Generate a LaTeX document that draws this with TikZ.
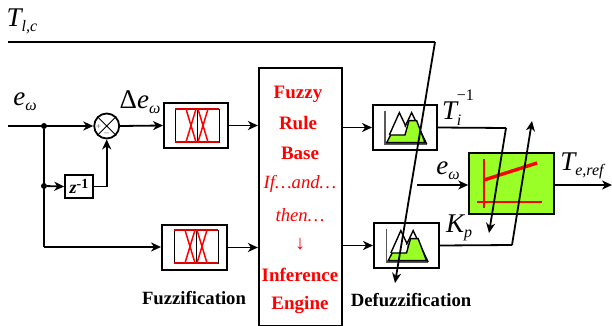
\documentclass[tikz,border=0pt]{standalone}
\usepackage{fontspec}
\setmainfont{Liberation Serif}
\usetikzlibrary{arrows.meta}
\definecolor{lime}{RGB}{153,255,38}
\newcommand{\sbs}[1]{\raisebox{-0.4ex}{\fontsize{16}{16}\selectfont\itshape #1}}
\newcommand{\eom}{{\itshape e}\sbs{ω}}
\tikzset{
  x=1pt,y=-1pt,
  conn/.style={line width=1.8pt,-{Stealth[length=10pt,width=9pt,inset=3pt]}},
  wire/.style={line width=1.8pt},
  boxx/.style={draw,line width=1.9pt,inner sep=0,fill=white},
  lab/.style={inner sep=0,font=\fontsize{27}{28}\selectfont},
  captxt/.style={inner sep=0,font=\fontsize{18.7}{19}\selectfont\bfseries},
  rb/.style={inner sep=0,text=red,font=\fontsize{19}{20}\selectfont\bfseries},
  ri/.style={inner sep=0,text=red,font=\fontsize{18.7}{20}\selectfont\itshape},
  dotn/.style={circle,fill,inner sep=0,minimum size=6pt}
}
\newcommand{\fuzzmark}[2]{%
  \begin{scope}[shift={(#1,#2)}]
    \draw[line width=.9pt] (0,0) rectangle (44,33);
    \draw[line width=.9pt] (22,0) -- (22,33);
    \draw[red!85!black,line width=1.2pt] (0,0) -- (44,0) (0,33) -- (44,33);
    \draw[red,line width=1.5pt] (11,0) -- (21,33) (21,0) -- (11,33) (23,0) -- (33,33) (33,0) -- (23,33);
  \end{scope}}
\newcommand{\defuzzmark}[2]{%
  \begin{scope}[shift={(#1,#2)},x=.3333pt,y=-.3333pt]
    \draw[gray!70!black,line width=1.1pt] (75,62) -- (75,162) -- (200,162);
    \draw[line width=1.4pt,fill=white] (88,135) -- (118,68) -- (150,135);
    \draw[line width=1.4pt,fill=white] (135,110) -- (155,68) -- (200,162);
    \draw[line width=1.4pt,fill=lime] (80,158) -- (92,135) -- (135,135) -- (147,92) -- (170,92) -- (195,158) -- cycle;
  \end{scope}}
\begin{document}
\begin{tikzpicture}
\useasboundingbox (0,0) rectangle (612,326);
\fill[white] (0,0) rectangle (612,326);
% nodes
\node[lab,anchor=center] (tlc) at (22,21) {\itshape T\sbs{l,c}};
\node[lab] (e1) at (25,102) {\eom};
\node[lab] (de) at (140,102) {Δ\eom};
\coordinate (in1) at (8,126);
\coordinate (in0) at (8,42);
\coordinate (tl) at (435,42);
\coordinate (tlend) at (395,283);
\node[dotn] (d1) at (44,126) {};
\node[dotn] (d2) at (44,186) {};
\node[draw,circle,line width=1.8pt,minimum size=25pt,inner sep=0,fill=white] (sum) at (106.7,126) {};
\draw[line width=.9pt] (sum.north west) -- (sum.south east) (sum.north east) -- (sum.south west);
\node[inner sep=0,font=\fontsize{9}{9}\selectfont\bfseries,text=gray] (plus) at (98.5,126.5) {+};
\node[inner sep=0,font=\fontsize{9}{9}\selectfont\bfseries,text=gray] (minus) at (106.7,134.5) {–};
\node[boxx,minimum width=28pt,minimum height=23pt,line width=1.5pt,font=\fontsize{18}{18}\selectfont\bfseries] (z) at (79,186.5) {\textit{z}\raisebox{.6ex}{\fontsize{14}{14}\selectfont -1}};
\node[boxx,minimum width=64pt,minimum height=45pt] (fu1) at (196,125.5) {};
\fuzzmark{175}{109}
\node[boxx,minimum width=65pt,minimum height=45pt] (fu2) at (194.5,247.5) {};
\fuzzmark{174}{230}
\node[boxx,line width=2.2pt,minimum width=83pt,minimum height=258pt] (rule) at (300.5,197) {};
\node[rb] (r1) at (298,94) {Fuzzy};
\node[rb] (r2) at (298,123) {Rule};
\node[rb] (r3) at (300,153) {Base};
\node[ri] (r4) at (300,184) {If…and…};
\node[ri] (r5) at (300,215) {then…};
\node[inner sep=0,text=red,font=\fontsize{20}{20}\selectfont] (r6) at (300,244) {↓};
\node[rb] (r7) at (300,275) {Inference};
\node[rb] (r8) at (300,305) {Engine};
\node[boxx,minimum width=64pt,minimum height=45pt] (de1) at (405,127.5) {};
\defuzzmark{360}{90}
\node[boxx,minimum width=65pt,minimum height=45pt] (de2) at (406.5,245.5) {};
\defuzzmark{361.5}{208}
\node[draw,line width=1.5pt,fill=lime,minimum width=85pt,minimum height=61pt,inner sep=0] (pl) at (511.5,183.5) {};
\draw[red,line width=1.6pt] (484,159) -- (484,208) (477,202) -- (542,202);
\draw[red,line width=3.4pt] (484,180) -- (537,163);
\node[lab] (ti) at (458,108) {\itshape T\hspace{-.5pt}\rlap{\raisebox{-.5ex}{\fontsize{16}{16}\selectfont i}}\raisebox{1.5ex}{\fontsize{16}{16}\selectfont\upshape −1}};
\node[lab] (kp) at (459,228) {\itshape K\sbs{p}};
\node[lab] (e2) at (448,171) {\eom};
\node[lab] (ter) at (582,166) {\itshape T\sbs{e,ref}};
\node[captxt] (fz) at (194,298) {Fuzzification};
\node[captxt] (dz) at (411,300) {Defuzzification};
\coordinate (e2in) at (417,185);
\coordinate (out) at (612,185);
\coordinate (bend1) at (506,128);
\coordinate (end1) at (489,233);
\coordinate (bend2) at (512,245);
\coordinate (end2) at (532,121);
\coordinate (co) at (44,247);
% connectors
\draw[wire] (in0) -- (tl);
\draw[conn] (tl) -- (tlend);
\draw[conn] (in1) -- (sum.west);
\draw[conn] (sum.east) -- (fu1.west);
\draw[wire] (d1) -- (co);
\draw[conn] (co) -- (fu2.west |- co);
\draw[conn] (d2) -- (z.west);
\draw[conn] (z.east) -| (sum.south);
\draw[conn] (fu1.east) -- (rule.west |- fu1.east);
\draw[conn] (fu2.east) -- (rule.west |- fu2.east);
\draw[conn] (rule.east |- de1.west) -- (de1.west);
\draw[conn] (rule.east |- de2.west) -- (de2.west);
\draw[wire] (de1.east) -- (bend1);
\draw[conn] (bend1) -- (end1);
\draw[wire] (de2.east) -- (bend2);
\draw[conn] (bend2) -- (end2);
\draw[conn] (e2in) -- (pl.west |- e2in);
\draw[conn] (pl.east |- out) -- (out);
\end{tikzpicture}
\end{document}
